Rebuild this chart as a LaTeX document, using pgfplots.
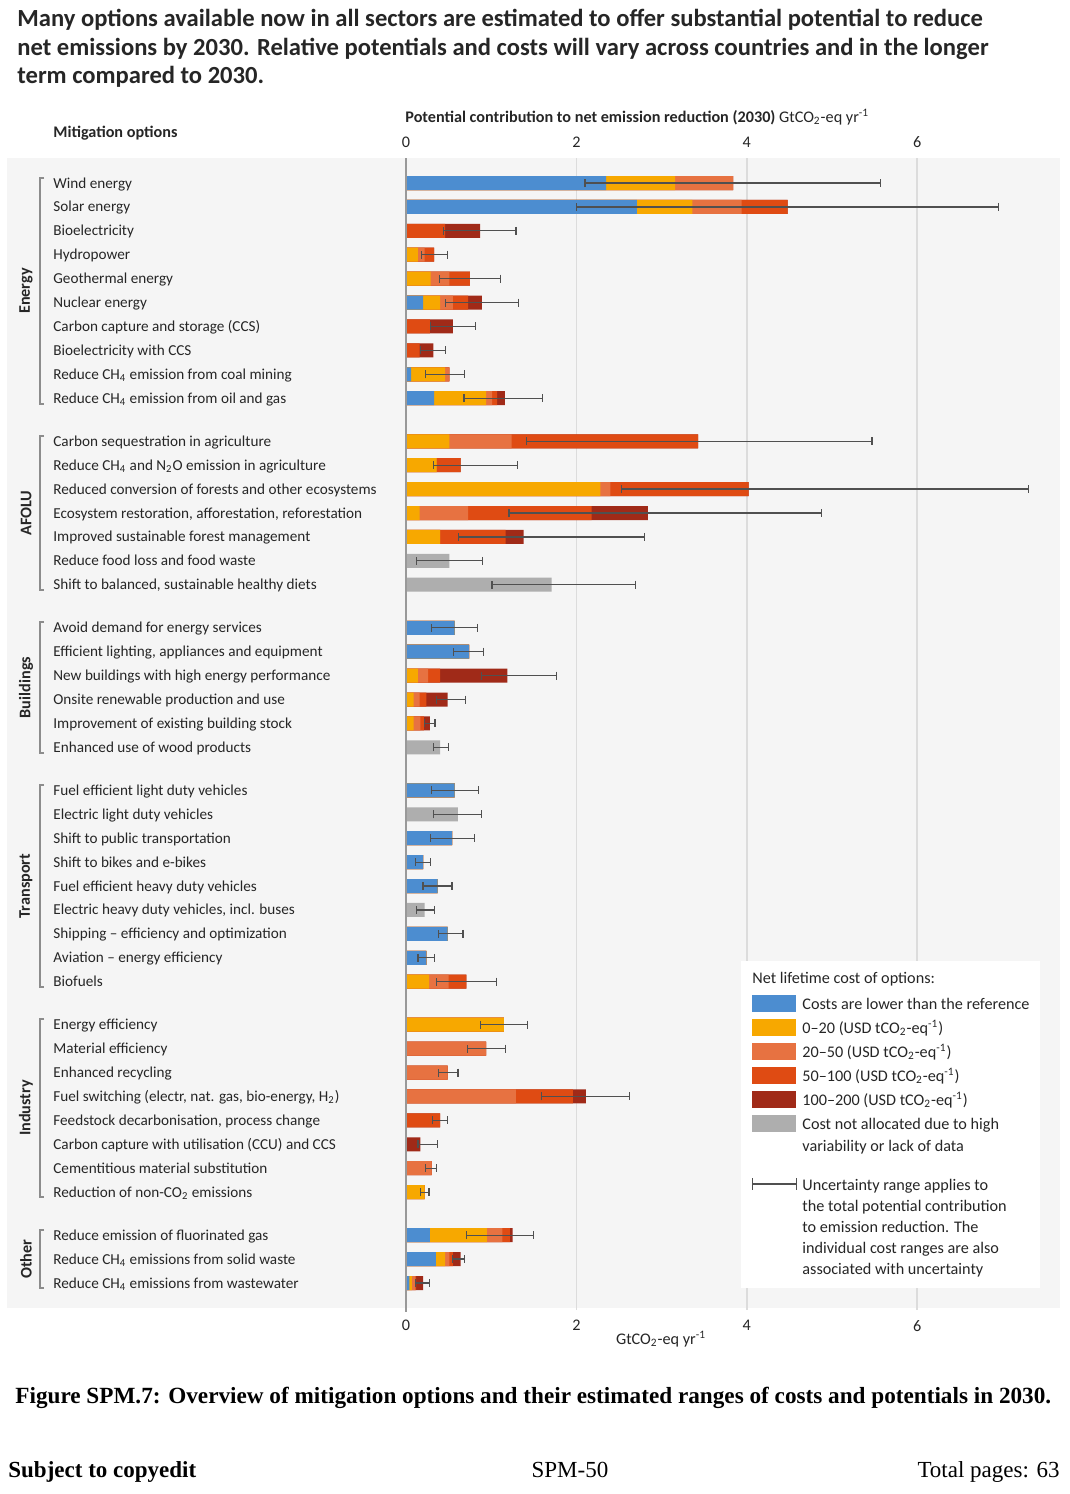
\documentclass[border=0pt]{standalone}
\usepackage{pgfplots}
\pgfplotsset{compat=1.18}
\usepackage{pgfplotstable}
\usepackage{fontspec}
\setmainfont{Carlito}
\newfontfamily\serif{Liberation Serif}

\definecolor{cblue}{HTML}{4C8DD0}
\definecolor{corange}{HTML}{F7A800}
\definecolor{ccoral}{HTML}{E77241}
\definecolor{cred}{HTML}{DF4B13}
\definecolor{cdred}{HTML}{A02A18}
\definecolor{cgray}{HTML}{AEAEAE}
\definecolor{bg}{HTML}{F5F5F5}
\definecolor{gridc}{HTML}{DCDCDC}
\definecolor{txt}{HTML}{262626}
\definecolor{errc}{HTML}{505050}

% cumulative segment ends: B blue, O 0-20, C 20-50, R 50-100, D 100-200, G not allocated
\pgfplotstableread{
y    B    O    C    R    D    G    lo   hi
0    2.35 3.16 3.84 3.84 3.84 0    2.10 5.57
1    2.71 3.36 3.94 4.48 4.48 0    2.00 6.95
2    0    0    0    0.46 0.87 0    0.44 1.29
3    0    0.14 0.22 0.33 0.33 0    0.18 0.49
4    0    0.29 0.51 0.75 0.75 0    0.39 1.11
5    0.20 0.40 0.55 0.73 0.89 0    0.46 1.32
6    0    0    0    0.28 0.55 0    0.29 0.82
7    0    0    0    0.16 0.32 0    0.17 0.46
8    0.06 0.46 0.51 0.51 0.51 0    0.23 0.69
9    0.33 0.94 1.01 1.07 1.16 0    0.68 1.60
10.8 0    0.51 1.24 3.43 3.43 0    1.41 5.47
11.8 0    0.36 0.36 0.64 0.64 0    0.32 1.31
12.8 0    2.28 2.40 4.02 4.02 0    2.53 7.31
13.8 0    0.16 0.73 2.18 2.84 0    1.21 4.88
14.8 0    0.40 0.40 1.17 1.38 0    0.62 2.80
15.8 0    0    0    0    0    0.51 0.12 0.90
16.8 0    0    0    0    0    1.71 1.01 2.69
18.6 0.57 0.57 0.57 0.57 0.57 0    0.30 0.84
19.6 0.74 0.74 0.74 0.74 0.74 0    0.56 0.91
20.6 0    0.14 0.26 0.40 1.19 0    0.89 1.77
21.6 0    0.09 0.16 0.24 0.49 0    0.36 0.70
22.6 0    0.09 0.17 0.21 0.28 0    0.22 0.34
23.6 0    0    0    0    0    0.40 0.32 0.50
25.4 0.57 0.57 0.57 0.57 0.57 0    0.30 0.85
26.4 0    0    0    0    0    0.61 0.32 0.89
27.4 0.54 0.54 0.54 0.54 0.54 0    0.29 0.80
28.4 0.20 0.20 0.20 0.20 0.20 0    0.11 0.29
29.4 0.37 0.37 0.37 0.37 0.37 0    0.20 0.54
30.4 0    0    0    0    0    0.22 0.12 0.33
31.4 0.49 0.49 0.49 0.49 0.49 0    0.38 0.67
32.4 0.24 0.24 0.24 0.24 0.24 0    0.14 0.33
33.4 0    0.27 0.50 0.71 0.71 0    0.36 1.06
35.2 0    1.15 1.15 1.15 1.15 0    0.87 1.43
36.2 0    0    0.94 0.94 0.94 0    0.72 1.17
37.2 0    0    0.49 0.49 0.49 0    0.38 0.61
38.2 0    0    1.29 1.96 2.11 0    1.59 2.62
39.2 0    0    0    0.40 0.40 0    0.31 0.49
40.2 0    0    0    0    0.17 0    0.14 0.37
41.2 0    0    0.30 0.30 0.30 0    0.23 0.36
42.2 0    0.22 0.22 0.22 0.22 0    0.17 0.27
44   0.28 0.95 1.13 1.22 1.25 0    0.71 1.50
45   0.35 0.46 0.51 0.55 0.64 0    0.55 0.69
46   0.04 0.07 0.11 0.12 0.20 0    0.11 0.28
}\options

\newcommand{\lbl}{\fontsize{8.1}{9.5}\selectfont}
\newcommand{\rowf}{\fontsize{7.6}{9}\selectfont}
\newcommand{\sub}[1]{\textsubscript{#1}}
\newcommand{\unit}{tCO\sub{2}-eq\textsuperscript{-1}}
\pgfplotsset{seg/.style={xbar, bar width=7pt, bar shift=0pt, draw=none}}

\begin{document}
\begin{tikzpicture}
\begin{scope}[x=0.5pt,y=-0.5pt]
\useasboundingbox (0,0) rectangle (1070,1494);
\fill[white] (0,0) rectangle (1070,1494);
\fill[bg] (7,158) rectangle (1060,1308);

% headline
\begin{scope}[every node/.style={anchor=base west,inner sep=0pt,text=txt,font=\fontsize{12.3}{14}\selectfont\bfseries}]
\node at (17,26.7) {Many options available now in all sectors are estimated to offer substantial potential to reduce};
\node at (17,55) {net emissions by 2030. Relative potentials and costs will vary across countries and in the longer};
\node at (17,83.3) {term compared to 2030.};
\end{scope}
\node[anchor=base west,inner sep=0pt,text=txt,font=\lbl\bfseries] at (53,137) {Mitigation options};
\end{scope}

% main axis
\begin{axis}[
  at={(203pt,-79pt)}, anchor=north west,
  scale only axis, width=327pt, height=576pt,
  xmin=0, xmax=7.676, ymin=-1.045, ymax=47.13, y dir=reverse,
  axis line style={draw=none},
  major tick length=0pt,
  xtick={0,2,4,6},
  xmajorgrids, grid style={gridc, line width=0.8pt},
  xticklabel style={font=\lbl, text=txt, inner sep=0pt, yshift=-5pt},
  /pgf/number format/assume math mode=true,
  xlabel={GtCO\sub{2}-eq yr\textsuperscript{-1}},
  xlabel style={at={(axis description cs:0.39,0)}, anchor=base, yshift=-17pt, font=\lbl, text=txt, inner sep=0pt},
  ytick={0,1,2,3,4,5,6,7,8,9,10.8,11.8,12.8,13.8,14.8,15.8,16.8,18.6,19.6,20.6,21.6,22.6,23.6,25.4,26.4,27.4,28.4,29.4,30.4,31.4,32.4,33.4,35.2,36.2,37.2,38.2,39.2,40.2,41.2,42.2,44,45,46},
  yticklabels={Wind energy, Solar energy, Bioelectricity, Hydropower, Geothermal energy, Nuclear energy,
    Carbon capture and storage (CCS), Bioelectricity with CCS,
    Reduce CH\sub{4} emission from coal mining, Reduce CH\sub{4} emission from oil and gas,
    Carbon sequestration in agriculture, Reduce CH\sub{4} and N\sub{2}O emission in agriculture,
    Reduced conversion of forests and other ecosystems, {Ecosystem restoration, afforestation, reforestation},
    Improved sustainable forest management, Reduce food loss and food waste, {Shift to balanced, sustainable healthy diets},
    Avoid demand for energy services, {Efficient lighting, appliances and equipment},
    New buildings with high energy performance, Onsite renewable production and use,
    Improvement of existing building stock, Enhanced use of wood products,
    Fuel efficient light duty vehicles, Electric light duty vehicles, Shift to public transportation,
    Shift to bikes and e-bikes, Fuel efficient heavy duty vehicles, {Electric heavy duty vehicles, incl. buses},
    Shipping -- efficiency and optimization, Aviation -- energy efficiency, Biofuels,
    Energy efficiency, Material efficiency, Enhanced recycling, {Fuel switching (electr, nat. gas, bio-energy, H\sub{2})},
    {Feedstock decarbonisation, process change}, Carbon capture with utilisation (CCU) and CCS,
    Cementitious material substitution, Reduction of non-CO\sub{2} emissions,
    Reduce emission of fluorinated gas, Reduce CH\sub{4} emissions from solid waste, Reduce CH\sub{4} emissions from wastewater},
  yticklabel style={anchor=base west, inner sep=0pt, xshift=-176.5pt, yshift=-2.5pt, font=\rowf, text=txt},
  clip=false,
]
\addplot[seg, fill=cdred] table[x=D,y=y]{\options};
\addplot[seg, fill=cred] table[x=R,y=y]{\options};
\addplot[seg, fill=ccoral] table[x=C,y=y]{\options};
\addplot[seg, fill=corange] table[x=O,y=y]{\options};
\addplot[seg, fill=cblue] table[x=B,y=y]{\options};
\addplot[seg, fill=cgray] table[x=G,y=y]{\options};
\addplot[draw=none, mark=none,
  error bars/.cd, x dir=both, x explicit, error mark=|,
  error bar style={draw=errc, line width=0.6pt},
  error mark options={draw=errc, line width=0.6pt, mark size=2pt}]
  table[x expr={(\thisrow{lo}+\thisrow{hi})/2}, y=y, x error expr={(\thisrow{hi}-\thisrow{lo})/2}]{\options};
\draw[black!40, line width=1.2pt] (axis cs:0,-1.045) -- (axis cs:0,47.2);
\end{axis}

% top tick labels
\begin{axis}[
  at={(203pt,-79pt)}, anchor=north west,
  scale only axis, width=327pt, height=576pt,
  xmin=0, xmax=7.676, ymin=0, ymax=1,
  axis line style={draw=none}, hide y axis,
  major tick length=0pt, xtick={0,2,4,6},
  xticklabel pos=upper,
  xticklabel style={font=\lbl, text=txt, inner sep=0pt, yshift=5pt},
  /pgf/number format/assume math mode=true,
]
\end{axis}

\begin{scope}[x=0.5pt,y=-0.5pt]
\node[anchor=base west, inner sep=0pt, text=txt, font=\lbl] at (405,122)
  {\textbf{Potential contribution to net emission reduction (2030)} GtCO\sub{2}-eq yr\textsuperscript{-1}};

% sector brackets
\foreach \a/\b/\name in {178/404/Energy, 436/590/AFOLU, 622/753/Buildings, 785/987/Transport, 1019/1197/Industry, 1230/1288/Other}{
  \draw[black!45, line width=0.6pt] (44,\a) -- (40,\a) -- (40,\b) -- (44,\b);
  \node[rotate=90, inner sep=0pt, text=txt, font=\lbl\bfseries] at (26,{(\a+\b)/2}) {\name};
}

% legend
\fill[white] (741,961) rectangle (1040,1288);
\begin{scope}[every node/.style={anchor=base west, inner sep=0pt, text=txt, font=\lbl}]
\node at (752,983) {Net lifetime cost of options:};
\foreach \c/\yy/\t in {cblue/1003/Costs are lower than the reference,
  corange/1027/0--20 (USD \unit),
  ccoral/1051/20--50 (USD \unit),
  cred/1075/50--100 (USD \unit),
  cdred/1099/100--200 (USD \unit),
  cgray/1123/Cost not allocated due to high}{
  \fill[\c] (752,\yy-8.5) rectangle (796,\yy+8.5);
  \node at (802,\yy+6) {\t};
}
\node at (802,1151) {variability or lack of data};
\draw[errc, line width=0.6pt, |-|] (752,1184) -- (797,1184);
\node at (802,1190) {Uncertainty range applies to};
\node at (802,1211) {the total potential contribution};
\node at (802,1232) {to emission reduction. The};
\node at (802,1253) {individual cost ranges are also};
\node at (802,1274) {associated with uncertainty};
\end{scope}

% caption and footer
\node[anchor=base west, inner sep=0pt, font=\serif\fontsize{11.6}{13}\selectfont\bfseries] at (15,1403)
  {Figure SPM.7: Overview of mitigation options and their estimated ranges of costs and potentials in 2030.};
\node[anchor=base west, inner sep=0pt, font=\serif\fontsize{11.5}{13}\selectfont\bfseries] at (8,1477) {Subject to copyedit};
\node[anchor=base, inner sep=0pt, font=\serif\fontsize{11.5}{13}\selectfont] at (570,1477) {SPM-50};
\node[anchor=base east, inner sep=0pt, font=\serif\fontsize{11.5}{13}\selectfont] at (1060,1477) {Total pages: 63};
\end{scope}
\end{tikzpicture}
\end{document}
